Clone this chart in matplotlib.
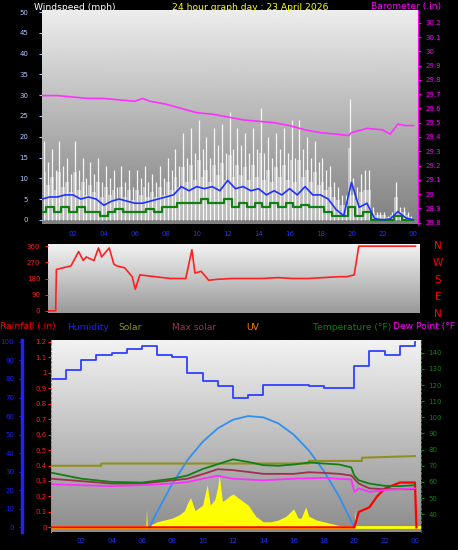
import numpy as np
import matplotlib
matplotlib.use("Agg")
import matplotlib.pyplot as plt

W, H = 458, 550
# ---------------- data ----------------
hours_q = np.arange(0, 24, 0.25)
gust = [19,14,17,12, 19,13,15,11, 19,12,15,10, 14,11,15,9, 13,10,12,8, 13,9,12,8,
        12,10,13,9, 11,9,13,10, 15,12,17,13, 21,15,22,16, 24,17,20,15, 22,18,23,16,
        26,17,22,18, 21,16,22,17, 27,16,20,15, 21,17,22,16, 24,15,24,17, 20,15,19,14,
        15,12,13,9, 8,6,6,29, 10,8,11,12, 12,3,2,2, 2,1,2,9, 3,3,2,1]
hours_h = np.arange(0, 24.01, 0.5)
wind_avg = [5,5.5,5.5,6,6,5,5.5,5,3.5,4.5,5,4.5,4,4,4.5,5,5.5,6,8,7,8,7.5,8,7,9.5,7.5,8,7,
            7.5,6,7,6,7.5,6,8,6,6,5,2.5,1,9,3,4,0.3,0,0.2,2,0.5,0]
wind_spd = [2,3,2,3,2,3,2,2,1,2,2.5,2,2,2,2.5,2,3,3,4,4,4,5,4,4,5,3,4,3,4,3,4,3,4,3,3.5,3,
            3,2,1,1,3,1,2,0,0,0,1,0,0]
baro_t = [0,1,2,3,4,5,6,6.5,7,8,9,10,11,12,13,14,15,16,17,18,19,19.8,20,21,22,22.5,23,23.5,24]
baro = [29.69,29.69,29.68,29.67,29.67,29.66,29.65,29.67,29.65,29.63,29.60,29.57,29.56,29.54,
        29.52,29.51,29.50,29.48,29.45,29.43,29.42,29.41,29.43,29.46,29.45,29.42,29.49,29.48,29.48]
dir_t = [0,0.5,0.55,1,1.5,2,2.3,2.5,3,3.3,3.5,4,4.3,4.5,5,5.5,5.7,6,7,8,9,9.4,9.6,10,10.5,
         11,12,13,14,15,16,17,18,19,19.5,20,20.3,24]
wdir = [0,0,230,240,250,330,280,300,280,350,300,350,260,250,240,190,120,200,190,180,180,340,
        210,220,170,175,180,180,180,185,180,180,185,190,190,200,360,360]
hum_t = [0,1,2,3,4,5,6,7,8,9,10,11,12,13,14,17,18,20,21,22,23,24]
humidity = [80,85,90,93,94,96,98,93,92,83,79,76,69.5,71.5,77,76,75,87,95,93,98,100]
temp_t = [0,2,4,6,8,9,10,11,12,13,14,15,16,17,18,19,19.8,20,20.3,21,22,23,24]
temperature = [65.8,62,60,59.6,62,64,68,71,74,72.4,70.4,70,70.8,72,71.4,70.8,69,64,61,59,57.6,57.4,58]
ms_t = [0,4,6,8,9,10,11,12,13,14,16,17,18,19,19.8,20.3,21,22,24]
max_solar = [62,59,59,61,62,64.8,67.9,67.3,66.2,65,65,66,65.6,65,64,59,56,55.5,55.5]
dp_t = [0,4,6,8,9,10,11,12,14,16,18,19.8,20,20.3,21,22,24]
dewpoint = [58.6,57.4,58,59,60,62,63.8,62,61,62,62.5,61.5,53.8,56,53.8,55,56]
solar_line_t = [0,3.3,3.31,17,17.01,20.5,20.51,24]
solar_line = [70,70,71.4,71.4,73,73,75,76]
uv_t = [6.5,7,8,9,10,11,12,13,14,15,16,17,18,19,20]
uv = [0,8.4,23.5,36.3,46.1,53.4,58,60,59.3,56,50,41.5,30.3,16.7,0]
sol_t = [6.25,6.3,6.35,6.5,7,7.5,8,8.5,8.8,9,9.2,9.5,10,10.3,10.5,10.8,11,11.1,11.3,11.5,11.8,
         12,12.5,13,13.5,14,14.5,15,15.5,16,16.3,16.5,16.8,17,17.5,18,18.5,19,19.5,20,20.05,20.1,20.15]
solar = [0,10,0,1,3,4,5,7,9,13,16,9,12,23,12,15,22,28,14,15,17,18,15,12,6,3,3,4,6,10,5,5,11,
         6,4,3,2,1,0.5,0,10,0,0]
rain_t = [0,20,20.3,21,21.5,22,22.5,23,24,24.1]
rain = [0,0,0.1,0.13,0.2,0.25,0.27,0.29,0.29,0]
xticks = [2,4,6,8,10,12,14,16,18,20,22,24]
xlabels = ['02','04','06','08','10','12','14','16','18','20','22','00']

# ---------------- helpers ----------------
fig = plt.figure(figsize=(W/100, H/100), dpi=100, facecolor='black')
def ax_px(l, t, r, b):
    return fig.add_axes([l/W, 1-b/H, (r-l)/W, (b-t)/H])
def gradient(ax, top, bot):
    g = np.linspace(top, bot, 256).reshape(-1, 1)
    ax.imshow(g, cmap='gray', vmin=0, vmax=1, aspect='auto', extent=[0, 1, 0, 1],
              transform=ax.transAxes, zorder=0, interpolation='bilinear')
FS = 5
TF = 6.6

# ---------------- panel 1 ----------------
a1 = ax_px(42, 10, 418, 224)
gradient(a1, 0.93, 0.5)
a1.set_xlim(0, 24.3); a1.set_ylim(-1, 50.5)
a1.fill_between(hours_q + 0.125, np.array(gust) * 0.6, step='mid', color='white', alpha=0.45, lw=0, zorder=2)
a1.vlines(hours_q + 0.125, 0, gust, color='white', lw=0.9, alpha=0.9, zorder=2)
a1.step(hours_h, wind_spd, where='mid', color='#108010', lw=1.6, zorder=3)
a1.plot(hours_h, wind_avg, color='#2030ff', lw=1.2, zorder=4)
a1.set_yticks(range(0, 51, 5))
a1.set_xticks(xticks); a1.set_xticklabels(xlabels)
a1.tick_params(axis='y', colors='#b0c8ff', labelsize=FS, length=2, pad=8)
a1.tick_params(axis='x', colors='#2030ff', labelsize=FS, length=0, pad=5)
for s in a1.spines.values(): s.set_visible(False)
b1 = a1.twinx()
b1.set_ylim(28.79, 30.29)
b1.plot(baro_t, baro, color='#ff30ff', lw=1.2, zorder=5)
bt = np.round(np.arange(28.8, 30.25, 0.1), 1)
b1.set_yticks(bt); b1.set_yticklabels([f"{v:g}" for v in bt])
b1.tick_params(axis='y', colors='#ff00ff', labelsize=FS, length=2)
for s in b1.spines.values(): s.set_visible(False)
b1.spines['right'].set_visible(True); b1.spines['right'].set_color('#ff00ff')
fig.text(34/W, 1-7/H, 'Windspeed (mph)', color='white', fontsize=TF, va='center')
fig.text(172/W, 1-7/H, '24 hour graph day : 23 April 2026', color='yellow', fontsize=TF, va='center')
fig.text(371/W, 1-7/H, 'Barometer (.in)', color='#ff00ff', fontsize=TF, va='center')

# ---------------- panel 2 ----------------
a2 = ax_px(48, 244, 420, 313)
gradient(a2, 0.95, 0.6)
a2.set_xlim(0, 24.3); a2.set_ylim(-12, 372)
a2.plot(dir_t, wdir, color='#ff2020', lw=1.2, zorder=3)
a2.set_yticks([0, 90, 180, 270, 360]); a2.set_xticks([])
a2.tick_params(axis='y', colors='#ff2020', labelsize=FS, length=2)
for s in a2.spines.values(): s.set_visible(False)
for i, c in enumerate(['N', 'W', 'S', 'E', 'N']):
    fig.text(438/W, 1-(246 + i*17)/H, c, color='red', fontsize=7.5, ha='center', va='center')

legend = [('Rainfall (.in)', 'red', 0), ('Humidity', '#2020ff', 67), ('Solar', '#909020', 118),
          ('Max solar', '#a03050', 172), ('UV', '#ff8000', 246), ('Temperature (°F)', '#108010', 313),
          ('Dew Point (°F', '#ff00ff', 393)]
for t, c, x in legend:
    fig.text(x/W, 1-327/H, t, color=c, fontsize=TF, va='center')

# ---------------- panel 3 ----------------
a3 = ax_px(51, 340, 421, 532)
gradient(a3, 0.95, 0.55)
a3.set_xlim(0, 24.4); a3.set_ylim(-2.5, 101)
a3.fill_between(sol_t, solar, color='yellow', lw=0, zorder=2)
a3.axhline(0, color='yellow', lw=2, zorder=2)
a3.plot(uv_t, uv, color='#3090f0', lw=1.3, zorder=3)
a3.step(hum_t, humidity, where='post', color='#3040ff', lw=1.3, zorder=4)
a3.set_yticks(range(0, 101, 10))
a3.set_xticks(xticks); a3.set_xticklabels(xlabels)
a3.tick_params(axis='y', colors='#2020ff', labelsize=FS, length=2)
a3.tick_params(axis='x', colors='#2030ff', labelsize=FS, length=0, pad=4)
for s in a3.spines.values(): s.set_visible(False)
a3.spines['left'].set_visible(True); a3.spines['left'].set_color('#2020ff')
a3.spines['left'].set_linewidth(2.5); a3.spines['left'].set_position(('outward', 21))
r3 = a3.twinx()
r3.set_ylim(-0.03, 1.212)
r3.plot(rain_t, rain, color='red', lw=1.6, zorder=5)
r3.yaxis.tick_left()
rt = np.round(np.arange(0, 1.21, 0.1), 1)
r3.set_yticks(rt); r3.set_yticklabels([f"{v:g}" for v in rt])
r3.tick_params(axis='y', colors='#ff2020', labelsize=FS, length=2, pad=1)
for s in r3.spines.values(): s.set_visible(False)
r3.spines['left'].set_visible(True); r3.spines['left'].set_color('#ff6060')
r3.spines['left'].set_linestyle((0, (2, 2)))
t3 = a3.twinx()
t3.set_ylim(29, 147.9)
t3.plot(solar_line_t, solar_line, color='#909020', lw=1.5)
t3.plot(ms_t, max_solar, color='#a03050', lw=1.3)
t3.plot(dp_t, dewpoint, color='#ff30ff', lw=1.3)
t3.plot(temp_t, temperature, color='#108010', lw=1.3)
t3.set_yticks(range(40, 141, 10))
t3.tick_params(axis='y', colors='#108010', labelsize=FS, length=2)
for s in t3.spines.values(): s.set_visible(False)
t3.spines['right'].set_visible(True); t3.spines['right'].set_color('#108010')
t3.spines['right'].set_linestyle((0, (2, 2)))

fig.savefig('out.png', dpi=100, facecolor='black')
